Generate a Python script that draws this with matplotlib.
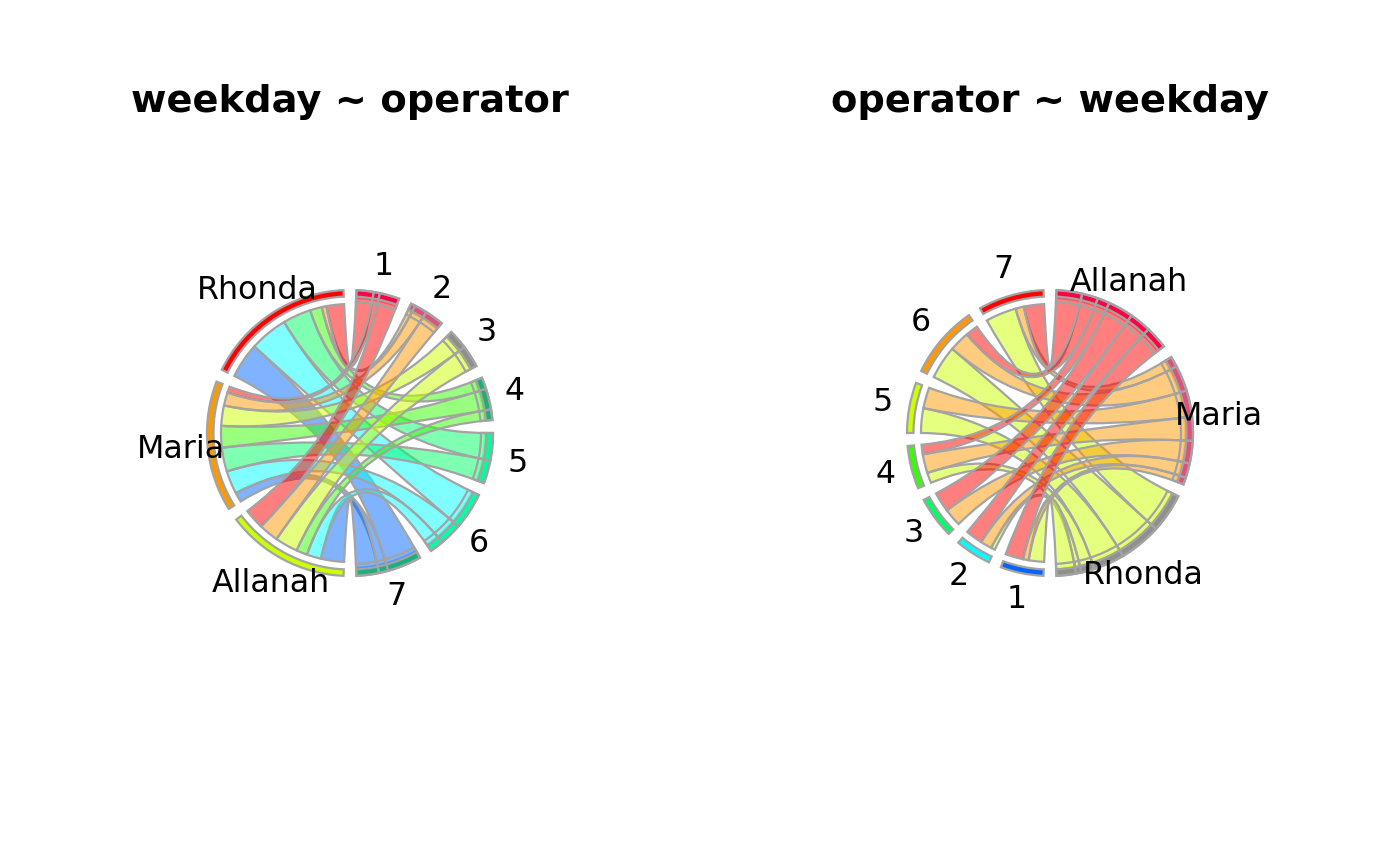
import numpy as np
import matplotlib
matplotlib.use("Agg")
import matplotlib.pyplot as plt
from matplotlib.path import Path
from matplotlib.patches import PathPatch, Wedge

# ---------------- data ----------------
weekdays = ["1", "2", "3", "4", "5", "6", "7"]
operators = ["Allanah", "Maria", "Rhonda"]
# value of each operator per weekday 1..7
allanah = [9.25, 8.77, 10.29, 4.94, 0.0, 6.48, 10.46]
maria = [2.83, 5.90, 9.16, 9.75, 10.79, 10.45, 4.29]
rhonda = [7.96, 2.08, 0.0, 5.39, 12.72, 17.19, 15.87]
titles = ["weekday ~ operator", "operator ~ weekday"]

# ---------------- style ----------------
rainbow10 = ["#FF0000", "#FF9900", "#CCFF00", "#33FF00", "#00FF66",
             "#00FFFF", "#0066FF", "#3300FF", "#CC00FF", "#FF0099"]
tip_colors = ["#FF0044", "#E0507A", "#8F8F8F", "#1DB074", "#00FF9C",
              "#00FFAA", "#1DB07E"]
EDGE = "#A3A3A3"
LW = 1.6
GAP = 5.2
R_OUT = 143.0
R_BIN = 136.5
R_C2 = 129.0
R_LAB = 170.0


def pt(r, th):
    t = np.radians(th)
    return (r * np.sin(t), r * np.cos(t))


def arc_pts(r, a, b, n=None):
    if n is None:
        n = max(2, int(abs(b - a) / 0.5) + 2)
    ths = np.linspace(a, b, n)
    return [pt(r, t) for t in ths]


def draw_chord(ax, first, second, M, title):
    M = np.asarray(M, dtype=float)
    n1, n2 = M.shape
    T = M.sum()
    s1 = (180.0 - n1 * GAP) / T
    s2 = (180.0 - n2 * GAP) / T

    farc, fsec = {}, []
    pos = GAP / 2
    for i in range(n1):
        st = pos
        for j in reversed(range(n2)):
            w = M[i, j] * s1
            if w > 0:
                farc[(i, j)] = (pos, pos + w)
            pos += w
        fsec.append((st, pos))
        pos += GAP

    sarc, ssec = {}, []
    pos = 180.0 + GAP / 2
    for j in range(n2):
        st = pos
        for i in reversed(range(n1)):
            w = M[i, j] * s2
            if w > 0:
                sarc[(i, j)] = (pos, pos + w)
            pos += w
        ssec.append((st, pos))
        pos += GAP

    # ribbons (first level drawn last, i.e. on top)
    for i in reversed(range(n1)):
        for j in reversed(range(n2)):
            if (i, j) not in farc:
                continue
            a1, a2 = farc[(i, j)]
            b1, b2 = sarc[(i, j)]
            verts, codes = [], []
            p = arc_pts(R_BIN, a1, a2)
            verts += p
            codes += [Path.MOVETO] + [Path.LINETO] * (len(p) - 1)
            verts += [(0, 0), pt(R_C2, b1)]
            codes += [Path.CURVE3, Path.CURVE3]
            p = arc_pts(R_C2, b1, b2)[1:]
            verts += p
            codes += [Path.LINETO] * len(p)
            verts += [(0, 0), pt(R_BIN, a1)]
            codes += [Path.CURVE3, Path.CURVE3]
            verts += [(0, 0)]
            codes += [Path.CLOSEPOLY]
            col = matplotlib.colors.to_rgba(rainbow10[i], 0.5)
            ax.add_patch(PathPatch(Path(verts, codes), facecolor=col,
                                   edgecolor=EDGE, lw=LW, zorder=2))
            # slightly darker strip near the outer end
            ax.add_patch(Wedge((0, 0), R_BIN, 90 - a2, 90 - a1, width=2.5,
                               facecolor=matplotlib.colors.to_rgba(rainbow10[i], 0.35),
                               edgecolor="none", zorder=2.5))
            # chord tip band (first variable)
            ax.add_patch(Wedge((0, 0), R_OUT, 90 - a2, 90 - a1,
                               width=R_OUT - R_BIN, facecolor=tip_colors[i],
                               edgecolor="none", zorder=3))
            ax.add_patch(Wedge((0, 0), R_OUT, 90 - a2, 90 - a1,
                               width=R_OUT - R_C2 - 2, facecolor="none",
                               edgecolor=EDGE, lw=LW, zorder=3.5))

    # first-variable sector outlines and labels
    for i, (st, en) in enumerate(fsec):
        ax.add_patch(Wedge((0, 0), R_OUT, 90 - en, 90 - st,
                           width=R_OUT - R_BIN, facecolor="none",
                           edgecolor=EDGE, lw=LW, zorder=4))
        mid = (st + en) / 2
        x, y = pt(R_LAB, mid)
        ax.text(x, y, first[i], ha="center", va="center", fontsize=22.8,
                zorder=5)

    # second-variable bands and labels
    for j, (st, en) in enumerate(ssec):
        ax.add_patch(Wedge((0, 0), R_OUT, 90 - en, 90 - st,
                           width=R_OUT - R_BIN,
                           facecolor=rainbow10[n2 - 1 - j],
                           edgecolor=EDGE, lw=LW, zorder=4))
        mid = (st + en) / 2
        x, y = pt(R_LAB, mid)
        ax.text(x, y, second[j], ha="center", va="center", fontsize=22.8,
                zorder=5)

    ax.text(0, 331, title, ha="center", va="center", fontsize=27.6,
            fontweight="bold")
    ax.set_xlim(-350, 350)
    ax.set_ylim(-433, 433)
    ax.set_axis_off()


fig = plt.figure(figsize=(14, 8.66), dpi=100)
fig.patch.set_facecolor("white")
ax1 = fig.add_axes([0, 0, 0.5, 1])
ax2 = fig.add_axes([0.5, 0, 0.5, 1])

ops = [allanah, maria, rhonda]
M_left = np.array(ops).T          # weekday x operator
M_right = np.array(ops)           # operator x weekday

draw_chord(ax1, weekdays, operators, M_left, titles[0])
draw_chord(ax2, operators, weekdays, M_right, titles[1])

fig.savefig("out.png", dpi=100, facecolor="white")
